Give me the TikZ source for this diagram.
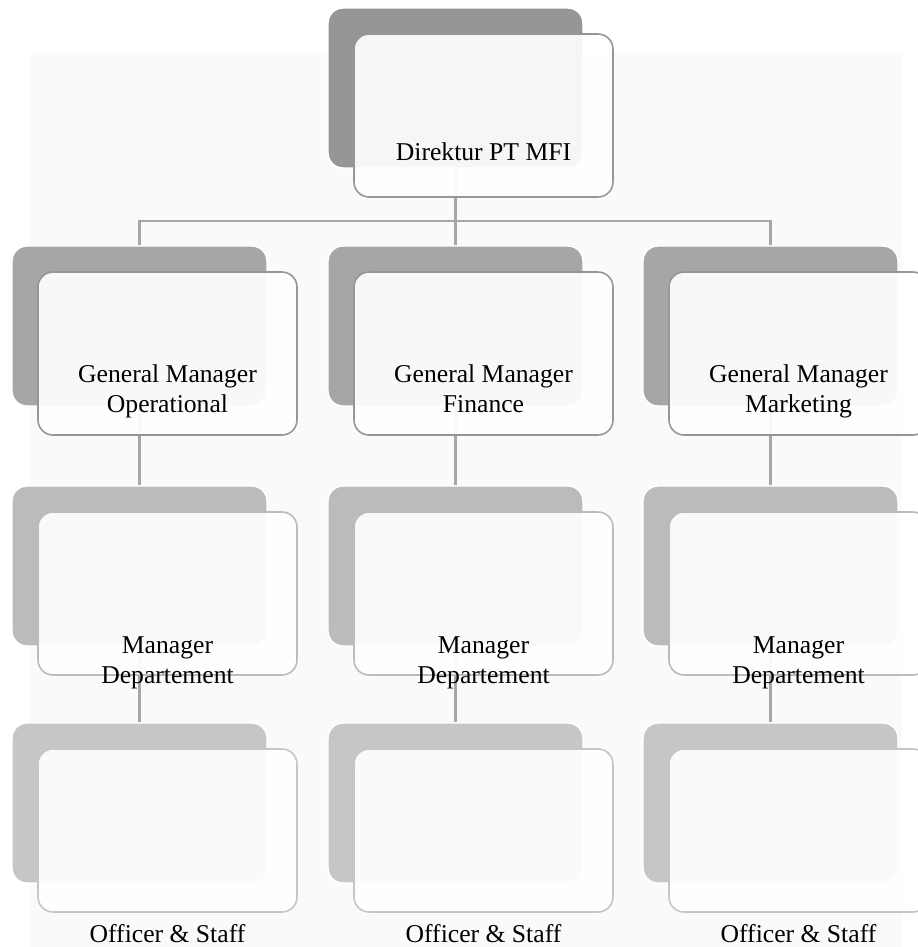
\documentclass[tikz,border=0pt]{standalone}
\usepackage{fontspec}
\setmainfont{Liberation Serif}
\definecolor{lvla}{HTML}{969696}
\definecolor{lvlb}{HTML}{A6A6A6}
\definecolor{lvlc}{HTML}{BBBBBB}
\definecolor{lvld}{HTML}{C6C6C6}
\definecolor{connline}{HTML}{A6A6A6}
\definecolor{wmark}{HTML}{FAFAFB}
\begin{document}
\begin{tikzpicture}[x=0.02cm,y=-0.02cm,
    back/.style={fill=#1,draw=white,line width=0.8pt,rounded corners=0.3cm,
      minimum width=5.1cm,minimum height=3.2cm,inner sep=0pt},
    front/.style={draw=#1,fill=white,fill opacity=0.92,line width=0.9pt,
      rounded corners=0.3cm,minimum width=5.18cm,minimum height=3.26cm,inner sep=0pt},
    conn/.style={draw=connline,line width=1.3pt},
    txt/.style={font=\fontsize{14.6}{17}\selectfont,align=center,anchor=base,inner sep=0pt}]
  \useasboundingbox (0,0) rectangle (918,947);
  \fill[wmark] (30,53) rectangle (902,947);
  \node[back=lvla] (dirB) at (455.5,88) {};
  \foreach \n/\x/\t in {o/139.5/Operational,f/455.5/Finance,m/770.5/Marketing} {
    \node[back=lvlb] (gm\n B) at (\x,326) {};
    \node[back=lvlc] (md\n B) at (\x,566) {};
    \node[back=lvld] (os\n B) at (\x,803) {};
    \draw[conn] (gm\n B.south) -- (md\n B.north);
    \draw[conn] (md\n B.south) -- (os\n B.north);
    \node[front=lvla] (gm\n) at ([shift={(28,27.5)}]gm\n B) {};
    \node[front=lvlc] (md\n) at ([shift={(28,27.5)}]md\n B) {};
    \node[front=lvld] (os\n) at ([shift={(28,27.5)}]os\n B) {};
    \node[txt] (gm\n T) at ([shift={(0,-23)}]gm\n.south) {General Manager\\\t};
    \node[txt] (md\n T) at ([shift={(0,8)}]md\n.south) {Manager\\Departement};
    \node[txt] (os\n T) at ([shift={(0,30)}]os\n.south) {Officer \& Staff};
  }
  \coordinate (bus) at (455.5,221);
  \draw[conn] (dirB.south) -- (bus);
  \draw[conn] (gmoB.north) |- (bus) -| (gmmB.north);
  \draw[conn] (bus) -- (gmfB.north);
  \node[front=lvla] (dir) at ([shift={(28,27.5)}]dirB) {};
  \node[txt] (dirT) at ([shift={(0,-37)}]dir.south) {Direktur PT MFI};
\end{tikzpicture}
\end{document}
